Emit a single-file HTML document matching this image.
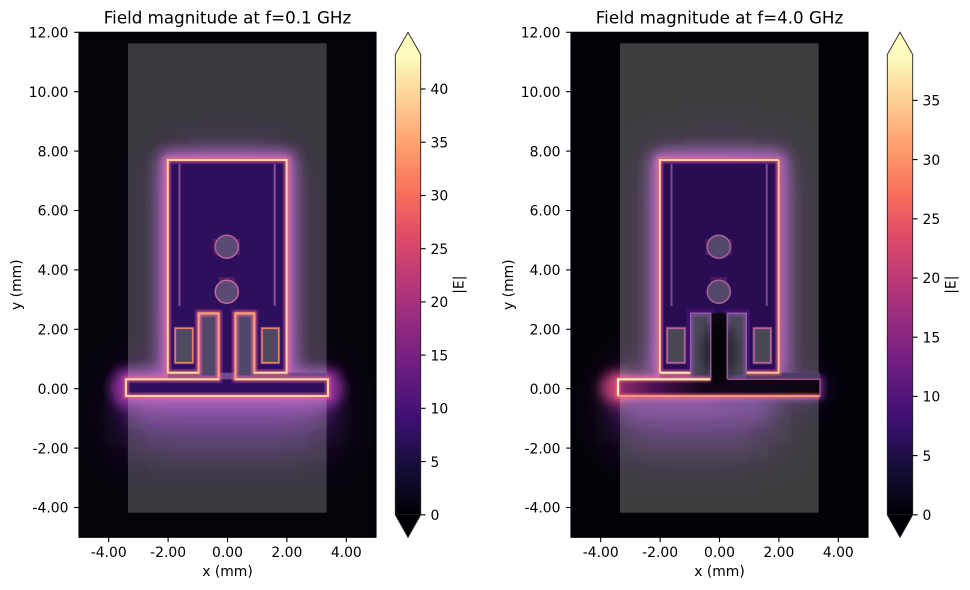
<!DOCTYPE html>
<html><head><meta charset="utf-8"><style>
html,body{margin:0;padding:0;background:#fff;}
svg{display:block;}
text{font-family:"DejaVu Sans","Liberation Sans",sans-serif;fill:#000;}
.t{font-size:13.9px;}
.ti{font-size:16.7px;}
</style></head><body>
<svg width="970" height="590" viewBox="0 0 970 590" xmlns="http://www.w3.org/2000/svg">
<defs>
<linearGradient id="magma" x1="0" y1="1" x2="0" y2="0">
<stop offset="0" stop-color="#000004"/>
<stop offset="0.1" stop-color="#140e36"/>
<stop offset="0.2" stop-color="#3b0f70"/>
<stop offset="0.3" stop-color="#641a80"/>
<stop offset="0.4" stop-color="#8c2981"/>
<stop offset="0.5" stop-color="#b73779"/>
<stop offset="0.6" stop-color="#de4968"/>
<stop offset="0.7" stop-color="#f7705c"/>
<stop offset="0.8" stop-color="#fe9f6d"/>
<stop offset="0.9" stop-color="#fecf92"/>
<stop offset="1" stop-color="#fcfdbf"/>
</linearGradient>
<linearGradient id="feedR" gradientUnits="userSpaceOnUse" x1="126" y1="0" x2="328" y2="0">
<stop offset="0" stop-color="#922e6c"/>
<stop offset="0.18" stop-color="#4a1052"/>
<stop offset="0.42" stop-color="#12061c"/>
<stop offset="1" stop-color="#0a0510"/>
</linearGradient>
<linearGradient id="glowR" gradientUnits="userSpaceOnUse" x1="126" y1="0" x2="328" y2="0">
<stop offset="0" stop-color="#c04a90"/>
<stop offset="0.45" stop-color="#a040a0"/>
<stop offset="1" stop-color="#5a2a7a"/>
</linearGradient>
<filter id="b28" x="-50%" y="-50%" width="200%" height="200%"><feGaussianBlur stdDeviation="24"/></filter>
<filter id="b12" x="-50%" y="-50%" width="200%" height="200%"><feGaussianBlur stdDeviation="11"/></filter>
<filter id="b7" x="-50%" y="-50%" width="200%" height="200%"><feGaussianBlur stdDeviation="7"/></filter>
<filter id="b6" x="-50%" y="-50%" width="200%" height="200%"><feGaussianBlur stdDeviation="6"/></filter>
<filter id="b3" x="-50%" y="-50%" width="200%" height="200%"><feGaussianBlur stdDeviation="3"/></filter>
<filter id="b2" x="-50%" y="-50%" width="200%" height="200%"><feGaussianBlur stdDeviation="1.3"/></filter>
<clipPath id="axL"><rect x="79" y="32.3" width="297" height="505"/></clipPath>
<clipPath id="PL"><path d="M126,396 L328,396 L328,379.3 L235.3,379.3 L235.3,313.3 L254.3,313.3 L254.3,372.7 L286.6,372.7 L286.6,160 L167.8,160 L167.8,372.7 L198.7,372.7 L198.7,313.3 L218.7,313.3 L218.7,379.3 L126,379.3 Z"/></clipPath>
<path id="P" d="M126,396 L328,396 L328,379.3 L235.3,379.3 L235.3,313.3 L254.3,313.3 L254.3,372.7 L286.6,372.7 L286.6,160 L167.8,160 L167.8,372.7 L198.7,372.7 L198.7,313.3 L218.7,313.3 L218.7,379.3 L126,379.3 Z"/>
</defs>

<!-- ================= LEFT PLOT ================= -->
<g clip-path="url(#axL)">
<rect x="79" y="32.3" width="297" height="505" fill="#030309"/>
<g filter="url(#b28)">
<use href="#P" fill="#5a1d82"/>
<rect x="126" y="392" width="202" height="55" fill="#4e1a78"/>
</g>
<g filter="url(#b12)">
<use href="#P" fill="#8a34a0"/>
<rect x="128" y="394" width="198" height="24" fill="#6e2890"/>
</g>
<g filter="url(#b7)" opacity="0.9"><use href="#P" fill="none" stroke="#9a3cb0" stroke-width="16"/></g>
<g filter="url(#b3)"><use href="#P" fill="none" stroke="#b04a9a" stroke-width="7"/></g>
<g filter="url(#b6)" opacity="0.8">
<ellipse cx="124" cy="388" rx="12" ry="15" fill="#8a2a9a"/>
<ellipse cx="330" cy="388" rx="12" ry="15" fill="#8a2a9a"/>
</g>
<rect x="128" y="43.3" width="198.7" height="469.4" fill="#ffffff" fill-opacity="0.21"/>
<!-- metal -->
<use href="#P" fill="#2d0f5c"/>
<g clip-path="url(#PL)"><use href="#P" fill="none" stroke="#4c1a80" stroke-width="8" opacity="0.7"/></g>
<!-- gap and fingers -->
<rect x="168" y="372.7" width="160" height="6.6" fill="#6e4a90"/>
<rect x="198.7" y="313.3" width="20" height="66" fill="#504868"/>
<rect x="235.3" y="313.3" width="19" height="66" fill="#504868"/>
<rect x="200.5" y="315" width="16.4" height="62" fill="none" stroke="#74509a" stroke-width="3.5" opacity="0.85"/>
<rect x="237.1" y="315" width="15.4" height="62" fill="none" stroke="#74509a" stroke-width="3.5" opacity="0.85"/>
<!-- small holes -->
<rect x="175.3" y="328.3" width="17.4" height="34.4" fill="#4c4a5c" stroke="#6a4a88" stroke-width="3"/>
<rect x="262" y="328.3" width="16.7" height="34.4" fill="#4c4a5c" stroke="#6a4a88" stroke-width="3"/>
<rect x="175.3" y="328.3" width="17.4" height="34.4" fill="none" stroke="#f27e62" stroke-width="1.4"/>
<rect x="262" y="328.3" width="16.7" height="34.4" fill="none" stroke="#f27e62" stroke-width="1.4"/>
<!-- slot lines -->
<line x1="179.5" y1="164" x2="179.5" y2="306" stroke="#8a4c9c" stroke-width="2"/>
<line x1="274.7" y1="164" x2="274.7" y2="306" stroke="#8a4c9c" stroke-width="2"/>
<!-- circles -->
<rect x="213.5" y="239" width="26.5" height="16" fill="#6a2a6a" opacity="0.7"/>
<circle cx="226.8" cy="246.7" r="11.5" fill="#5a4a76" stroke="#b8609a" stroke-width="1.5"/>
<rect x="219" y="277" width="16" height="6" fill="#6a2a6a" opacity="0.6"/>
<circle cx="226.8" cy="291.7" r="11.5" fill="#5a4a76" stroke="#c8689a" stroke-width="1.5"/>
<!-- bright outline -->
<g filter="url(#b2)"><use href="#P" fill="none" stroke="#f0607a" stroke-width="4.5" opacity="0.8"/></g>
<use href="#P" fill="none" stroke="#fde6a4" stroke-width="1.8"/>
<path d="M198.7,372.7 L198.7,313.3 L218.7,313.3 L218.7,379.3 M235.3,379.3 L235.3,313.3 L254.3,313.3 L254.3,372.7" fill="none" stroke="#f8a070" stroke-width="1.6"/>
</g>
<!-- axes frame & ticks left -->
<rect x="79" y="32.3" width="297" height="505" fill="none" stroke="#000" stroke-width="1.1"/>
<g stroke="#000" stroke-width="1.1">
<line x1="74.1" y1="32.3" x2="79" y2="32.3"/><line x1="74.1" y1="91.7" x2="79" y2="91.7"/><line x1="74.1" y1="151.1" x2="79" y2="151.1"/><line x1="74.1" y1="210.5" x2="79" y2="210.5"/><line x1="74.1" y1="269.9" x2="79" y2="269.9"/><line x1="74.1" y1="329.3" x2="79" y2="329.3"/><line x1="74.1" y1="388.7" x2="79" y2="388.7"/><line x1="74.1" y1="448.1" x2="79" y2="448.1"/><line x1="74.1" y1="507.5" x2="79" y2="507.5"/>
<line x1="108.7" y1="537.3" x2="108.7" y2="542.2"/><line x1="168.1" y1="537.3" x2="168.1" y2="542.2"/><line x1="227.5" y1="537.3" x2="227.5" y2="542.2"/><line x1="286.9" y1="537.3" x2="286.9" y2="542.2"/><line x1="346.3" y1="537.3" x2="346.3" y2="542.2"/>
</g>
<g class="t" text-anchor="end">
<text x="68.5" y="37.5">12.00</text><text x="68.5" y="96.9">10.00</text><text x="68.5" y="156.3">8.00</text><text x="68.5" y="215.7">6.00</text><text x="68.5" y="275.1">4.00</text><text x="68.5" y="334.5">2.00</text><text x="68.5" y="393.9">0.00</text><text x="68.5" y="453.3">-2.00</text><text x="68.5" y="512.7">-4.00</text>
</g>
<g class="t" text-anchor="middle">
<text x="108.7" y="556.8">-4.00</text><text x="168.1" y="556.8">-2.00</text><text x="227.5" y="556.8">0.00</text><text x="286.9" y="556.8">2.00</text><text x="346.3" y="556.8">4.00</text>
<text x="227.5" y="576">x (mm)</text>
<text transform="translate(21,284.7) rotate(-90)">y (mm)</text>
</g>
<text class="ti" x="227.5" y="23.5" text-anchor="middle">Field magnitude at f=0.1 GHz</text>
<!-- colorbar left -->
<rect x="395.3" y="54.5" width="25.4" height="460.3" fill="url(#magma)"/>
<polygon points="395.3,54.5 408,32.3 420.7,54.5" fill="#fcfdbf"/>
<polygon points="395.3,514.8 408,537.3 420.7,514.8" fill="#000004"/>
<path d="M395.3,54.5 L408,32.3 L420.7,54.5 L420.7,514.8 L408,537.3 L395.3,514.8 Z" fill="none" stroke="#222" stroke-width="0.9"/>
<g stroke="#000" stroke-width="1.1">
<line x1="420.7" y1="514.8" x2="425.6" y2="514.8"/><line x1="420.7" y1="461.6" x2="425.6" y2="461.6"/><line x1="420.7" y1="408.3" x2="425.6" y2="408.3"/><line x1="420.7" y1="355.1" x2="425.6" y2="355.1"/><line x1="420.7" y1="301.9" x2="425.6" y2="301.9"/><line x1="420.7" y1="248.7" x2="425.6" y2="248.7"/><line x1="420.7" y1="195.5" x2="425.6" y2="195.5"/><line x1="420.7" y1="142.2" x2="425.6" y2="142.2"/><line x1="420.7" y1="89" x2="425.6" y2="89"/>
</g>
<g class="t">
<text x="430.5" y="520">0</text><text x="430.5" y="466.8">5</text><text x="430.5" y="413.5">10</text><text x="430.5" y="360.3">15</text><text x="430.5" y="307.1">20</text><text x="430.5" y="253.9">25</text><text x="430.5" y="200.7">30</text><text x="430.5" y="147.4">35</text><text x="430.5" y="94.2">40</text>
<text transform="translate(463.5,284.7) rotate(-90)" text-anchor="middle">|E|</text>
</g>

<!-- ================= RIGHT PLOT ================= -->
<g transform="translate(492,0)">
<g clip-path="url(#axL)">
<rect x="79" y="32.3" width="297" height="505" fill="#020206"/>
<g filter="url(#b28)">
<rect x="167.8" y="160" width="118.8" height="212.7" fill="#5a1d82"/>
<rect x="126" y="379.3" width="110" height="16.7" fill="#7a2488"/>
<rect x="230" y="379.3" width="98" height="16.7" fill="#2a0d50"/>
<rect x="126" y="392" width="150" height="50" fill="#521a7c"/>
</g>
<g filter="url(#b12)">
<rect x="167.8" y="160" width="118.8" height="212.7" fill="#8a34a0"/>
<rect x="126" y="379.3" width="100" height="16.7" fill="#a03a98"/>
<rect x="226" y="379.3" width="102" height="16.7" fill="#3a1460"/>
<rect x="128" y="394" width="150" height="22" fill="#642888"/>
</g>
<g filter="url(#b7)" opacity="0.9"><path d="M167.8,372.7 L167.8,160 L286.6,160 L286.6,372.7" fill="none" stroke="#9a3cb0" stroke-width="16"/></g>
<g filter="url(#b3)"><use href="#P" fill="none" stroke="url(#glowR)" stroke-width="7"/></g>
<g filter="url(#b6)"><ellipse cx="124" cy="388" rx="15" ry="16" fill="#c8447a" opacity="0.9"/></g>
<rect x="128" y="43.3" width="198.7" height="469.4" fill="#ffffff" fill-opacity="0.235"/>
<!-- metal -->
<use href="#P" fill="#290c52"/>
<g clip-path="url(#PL)"><use href="#P" fill="none" stroke="#44167a" stroke-width="8" opacity="0.7"/></g>
<rect x="126" y="379.3" width="202" height="16.7" fill="url(#feedR)"/>
<rect x="218.7" y="313.3" width="16.6" height="70" fill="#0c0612"/>
<!-- gap and fingers -->
<rect x="168" y="372.7" width="50" height="6.6" fill="#8a5490"/>
<rect x="235" y="372.7" width="93" height="6.6" fill="#4e3c66"/>
<rect x="198.7" y="313.3" width="20" height="66" fill="#4c4858"/>
<rect x="235.3" y="313.3" width="19" height="66" fill="#4c4858"/>
<rect x="200.5" y="315" width="16.4" height="62" fill="none" stroke="#664e86" stroke-width="3.5" opacity="0.85"/>
<rect x="237.1" y="315" width="15.4" height="62" fill="none" stroke="#664e86" stroke-width="3.5" opacity="0.85"/>
<g filter="url(#b6)"><ellipse cx="227" cy="352" rx="15" ry="30" fill="#000" opacity="0.65"/></g>
<!-- small holes -->
<rect x="175.3" y="328.3" width="17.4" height="34.4" fill="#484850" stroke="#5e4a7a" stroke-width="3"/>
<rect x="262" y="328.3" width="16.7" height="34.4" fill="#484850" stroke="#5e4a7a" stroke-width="3"/>
<rect x="175.3" y="328.3" width="17.4" height="34.4" fill="none" stroke="#c8609a" stroke-width="1.3"/>
<rect x="262" y="328.3" width="16.7" height="34.4" fill="none" stroke="#c8609a" stroke-width="1.3"/>
<!-- slot lines -->
<line x1="179.5" y1="164" x2="179.5" y2="306" stroke="#7e4896" stroke-width="2"/>
<line x1="274.7" y1="164" x2="274.7" y2="306" stroke="#7e4896" stroke-width="2"/>
<!-- circles -->
<rect x="213.5" y="239" width="26.5" height="16" fill="#6a2a6a" opacity="0.6"/>
<circle cx="226.8" cy="246.7" r="11.5" fill="#54486a" stroke="#a8609a" stroke-width="1.5"/>
<rect x="219" y="277" width="16" height="6" fill="#6a2a6a" opacity="0.5"/>
<circle cx="226.8" cy="291.7" r="11.5" fill="#54486a" stroke="#a8609a" stroke-width="1.5"/>
<!-- outlines -->
<g filter="url(#b2)" opacity="0.8">
<path d="M167.8,372.7 L167.8,160 L286.6,160 L286.6,372.7 L254.3,372.7 M198.7,372.7 L167.8,372.7 M126,379.3 L218.7,379.3 M126,379.3 L126,396 L328,396" fill="none" stroke="#f0607a" stroke-width="4.5"/>
</g>
<path d="M167.8,372.7 L167.8,160 L286.6,160" fill="none" stroke="#fde6a4" stroke-width="1.8"/>
<path d="M286.6,160 L286.6,372.7 L254.3,372.7" fill="none" stroke="#fbc890" stroke-width="1.8"/>
<path d="M198.7,372.7 L167.8,372.7" fill="none" stroke="#fff0b8" stroke-width="2"/>
<path d="M218.7,379.3 L126,379.3 L126,396" fill="none" stroke="#fff0b8" stroke-width="2.2"/>
<path d="M126,396 L328,396" fill="none" stroke="#f6a078" stroke-width="1.7"/>
<path d="M328,396 L328,379.3 L235.3,379.3" fill="none" stroke="#a8488e" stroke-width="1.5"/>
<path d="M198.7,372.7 L198.7,313.3 L218.7,313.3 L218.7,379.3 M235.3,379.3 L235.3,313.3 L254.3,313.3 L254.3,372.7" fill="none" stroke="#9a5aa0" stroke-width="1.5"/>
</g>
<rect x="79" y="32.3" width="297" height="505" fill="none" stroke="#000" stroke-width="1.1"/>
<g stroke="#000" stroke-width="1.1">
<line x1="74.1" y1="32.3" x2="79" y2="32.3"/><line x1="74.1" y1="91.7" x2="79" y2="91.7"/><line x1="74.1" y1="151.1" x2="79" y2="151.1"/><line x1="74.1" y1="210.5" x2="79" y2="210.5"/><line x1="74.1" y1="269.9" x2="79" y2="269.9"/><line x1="74.1" y1="329.3" x2="79" y2="329.3"/><line x1="74.1" y1="388.7" x2="79" y2="388.7"/><line x1="74.1" y1="448.1" x2="79" y2="448.1"/><line x1="74.1" y1="507.5" x2="79" y2="507.5"/>
<line x1="108.7" y1="537.3" x2="108.7" y2="542.2"/><line x1="168.1" y1="537.3" x2="168.1" y2="542.2"/><line x1="227.5" y1="537.3" x2="227.5" y2="542.2"/><line x1="286.9" y1="537.3" x2="286.9" y2="542.2"/><line x1="346.3" y1="537.3" x2="346.3" y2="542.2"/>
</g>
<g class="t" text-anchor="end">
<text x="68.5" y="37.5">12.00</text><text x="68.5" y="96.9">10.00</text><text x="68.5" y="156.3">8.00</text><text x="68.5" y="215.7">6.00</text><text x="68.5" y="275.1">4.00</text><text x="68.5" y="334.5">2.00</text><text x="68.5" y="393.9">0.00</text><text x="68.5" y="453.3">-2.00</text><text x="68.5" y="512.7">-4.00</text>
</g>
<g class="t" text-anchor="middle">
<text x="108.7" y="556.8">-4.00</text><text x="168.1" y="556.8">-2.00</text><text x="227.5" y="556.8">0.00</text><text x="286.9" y="556.8">2.00</text><text x="346.3" y="556.8">4.00</text>
<text x="227.5" y="576">x (mm)</text>
<text transform="translate(21,284.7) rotate(-90)">y (mm)</text>
</g>
<text class="ti" x="227.5" y="23.5" text-anchor="middle">Field magnitude at f=4.0 GHz</text>
<!-- colorbar right -->
<rect x="395.3" y="54.5" width="25.4" height="460.3" fill="url(#magma)"/>
<polygon points="395.3,54.5 408,32.3 420.7,54.5" fill="#fcfdbf"/>
<polygon points="395.3,514.8 408,537.3 420.7,514.8" fill="#000004"/>
<path d="M395.3,54.5 L408,32.3 L420.7,54.5 L420.7,514.8 L408,537.3 L395.3,514.8 Z" fill="none" stroke="#222" stroke-width="0.9"/>
<g stroke="#000" stroke-width="1.1">
<line x1="420.7" y1="514.8" x2="425.6" y2="514.8"/><line x1="420.7" y1="455.6" x2="425.6" y2="455.6"/><line x1="420.7" y1="396.4" x2="425.6" y2="396.4"/><line x1="420.7" y1="337.2" x2="425.6" y2="337.2"/><line x1="420.7" y1="278" x2="425.6" y2="278"/><line x1="420.7" y1="218.8" x2="425.6" y2="218.8"/><line x1="420.7" y1="159.6" x2="425.6" y2="159.6"/><line x1="420.7" y1="100.4" x2="425.6" y2="100.4"/>
</g>
<g class="t">
<text x="430.5" y="520">0</text><text x="430.5" y="460.8">5</text><text x="430.5" y="401.6">10</text><text x="430.5" y="342.4">15</text><text x="430.5" y="283.2">20</text><text x="430.5" y="224">25</text><text x="430.5" y="164.8">30</text><text x="430.5" y="105.6">35</text>
<text transform="translate(463.5,284.7) rotate(-90)" text-anchor="middle">|E|</text>
</g>
</g>
</svg>
</body></html>
